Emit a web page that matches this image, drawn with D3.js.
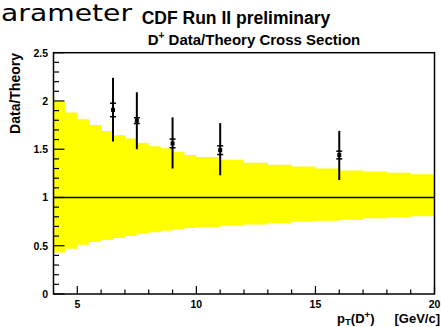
<!DOCTYPE html>
<html>
<head>
<meta charset="utf-8">
<script src="https://cdn.jsdelivr.net/npm/d3@7"></script>
<style>
    body { margin: 0; background: #fff; }
    svg { display: block; }
</style>
</head>
<body>
<div id="visualization"></div>
<script>
// theory band (pT bin edges, upper and lower edge of the band)
const bandPt = [4, 4.5, 5, 5.5, 6, 6.5, 7, 7.5, 8, 8.5, 9, 9.5, 10, 11, 12, 13, 14, 15, 16, 17, 18, 19, 20];
const bandHi = [1.99, 1.88, 1.81, 1.75, 1.69, 1.645, 1.61, 1.565, 1.53, 1.51, 1.475, 1.44, 1.42, 1.39, 1.36, 1.34, 1.32, 1.30, 1.28, 1.27, 1.255, 1.24, 1.235];
const bandLo = [0.43, 0.47, 0.51, 0.54, 0.56, 0.58, 0.60, 0.625, 0.64, 0.655, 0.67, 0.685, 0.695, 0.71, 0.72, 0.735, 0.75, 0.76, 0.77, 0.785, 0.795, 0.805, 0.81];

// data points
const ptValues = [6.5, 7.5, 9, 11, 16];
const ratio = [1.907, 1.796, 1.56, 1.49, 1.44];
const totalUp = [2.24, 2.09, 1.83, 1.77, 1.69];
const totalDown = [1.58, 1.50, 1.30, 1.23, 1.18];
const statErr = [0.07, 0.03, 0.045, 0.045, 0.04];

const xTickLabels = [5, 10, 15, 20];
const yTickLabels = [0, 0.5, 1, 1.5, 2, 2.5];

function drawChart() {
    const svg = d3.select("#visualization").append("svg")
        .attr("width", 441)
        .attr("height", 327);

    const x = d3.scaleLinear().domain([4, 20]).range([53.5, 434.5]);
    const y = d3.scaleLinear().domain([0, 2.5]).range([294, 52.7]);

    // slide text leaking in at the top left (its first letter is off the picture)
    svg.append("text")
        .attr("x", 1)
        .attr("y", 21)
        .attr("font-family", "DejaVu Sans")
        .attr("font-size", 22.5)
        .attr("textLength", 131)
        .attr("lengthAdjust", "spacingAndGlyphs")
        .attr("fill", "black")
        .text("arameter");

    svg.append("text")
        .attr("x", 236)
        .attr("y", 24)
        .attr("text-anchor", "middle")
        .attr("font-family", "Liberation Sans, Arial")
        .attr("font-weight", "bold")
        .attr("font-size", 17.5)
        .text("CDF Run II preliminary");

    const title = svg.append("text")
        .attr("x", 254)
        .attr("y", 44.5)
        .attr("text-anchor", "middle")
        .attr("font-family", "Liberation Sans, Arial")
        .attr("font-weight", "bold")
        .attr("font-size", 15);
    title.append("tspan").text("D");
    title.append("tspan").attr("dy", -6).attr("font-size", 10).text("+");
    title.append("tspan").attr("dy", 6).text(" Data/Theory Cross Section");

    // yellow band
    const area = d3.area()
        .x((d, i) => x(bandPt[i]))
        .y0((d, i) => y(bandLo[i]))
        .y1((d, i) => y(bandHi[i]))
        .curve(d3.curveStepAfter);

    svg.append("path")
        .attr("d", area(bandPt))
        .attr("fill", "#ffff00");

    // line at 1
    svg.append("line")
        .attr("x1", x(4)).attr("x2", x(20))
        .attr("y1", y(1)).attr("y2", y(1))
        .attr("stroke", "black")
        .attr("stroke-width", 1.5);

    // error bars
    const pts = svg.append("g");
    ptValues.forEach((pt, i) => {
        const cx = x(pt);
        pts.append("line")
            .attr("x1", cx).attr("x2", cx)
            .attr("y1", y(totalUp[i])).attr("y2", y(totalDown[i]))
            .attr("stroke", "black")
            .attr("stroke-width", 2);
        [ratio[i] + statErr[i], ratio[i] - statErr[i]].forEach(v => {
            pts.append("line")
                .attr("x1", cx - 3).attr("x2", cx + 3)
                .attr("y1", y(v)).attr("y2", y(v))
                .attr("stroke", "black")
                .attr("stroke-width", 1.5);
        });
        pts.append("rect")
            .attr("x", cx - 2).attr("y", y(ratio[i]) - 2)
            .attr("width", 4).attr("height", 4)
            .attr("fill", "black");
    });

    // frame
    svg.append("rect")
        .attr("x", x(4)).attr("y", y(2.5))
        .attr("width", x(20) - x(4))
        .attr("height", y(0) - y(2.5))
        .attr("fill", "none")
        .attr("stroke", "black")
        .attr("stroke-width", 1.5);

    // y ticks
    const yMinor = d3.range(0, 2.5001, 0.1);
    svg.append("g")
        .selectAll("line")
        .data(yMinor)
        .enter().append("line")
        .attr("x1", x(4))
        .attr("x2", d => x(4) + (Math.abs(d * 2 - Math.round(d * 2)) < 1e-6 ? 11 : 5.5))
        .attr("y1", d => y(d)).attr("y2", d => y(d))
        .attr("stroke", "black")
        .attr("stroke-width", 1.2);

    svg.append("g")
        .selectAll("text")
        .data(yTickLabels)
        .enter().append("text")
        .attr("x", 48)
        .attr("y", d => y(d) + 3.8)
        .attr("text-anchor", "end")
        .attr("font-family", "Liberation Sans, Arial")
        .attr("font-weight", "bold")
        .attr("font-size", 10.5)
        .text(d => d);

    // x ticks
    const xMinor = d3.range(5, 20.001, 1);
    svg.append("g")
        .selectAll("line")
        .data(xMinor)
        .enter().append("line")
        .attr("x1", d => x(d)).attr("x2", d => x(d))
        .attr("y1", y(0))
        .attr("y2", d => y(0) - (d % 5 === 0 ? 8 : 4.5))
        .attr("stroke", "black")
        .attr("stroke-width", 1.2);

    svg.append("g")
        .selectAll("text")
        .data(xTickLabels)
        .enter().append("text")
        .attr("x", d => x(d))
        .attr("y", 308)
        .attr("text-anchor", "middle")
        .attr("font-family", "Liberation Sans, Arial")
        .attr("font-weight", "bold")
        .attr("font-size", 10.5)
        .text(d => d);

    // axis titles
    svg.append("text")
        .attr("transform", "translate(20,53) rotate(-90)")
        .attr("text-anchor", "end")
        .attr("font-family", "Liberation Sans, Arial")
        .attr("font-weight", "bold")
        .attr("font-size", 14)
        .text("Data/Theory");

    const xt = svg.append("text")
        .attr("x", 440)
        .attr("y", 322.5)
        .attr("text-anchor", "end")
        .attr("font-family", "Liberation Sans, Arial")
        .attr("font-weight", "bold")
        .attr("font-size", 13);
    xt.append("tspan").text("p");
    xt.append("tspan").attr("dy", 2).attr("font-size", 9.5).text("T");
    xt.append("tspan").attr("dy", -2).text("(D");
    xt.append("tspan").attr("dy", -5).attr("font-size", 9.5).text("+");
    xt.append("tspan").attr("dy", 5).text(")");
    xt.append("tspan").attr("dx", 20).text("[GeV/c]");
}

drawChart();
</script>
</body>
</html>
